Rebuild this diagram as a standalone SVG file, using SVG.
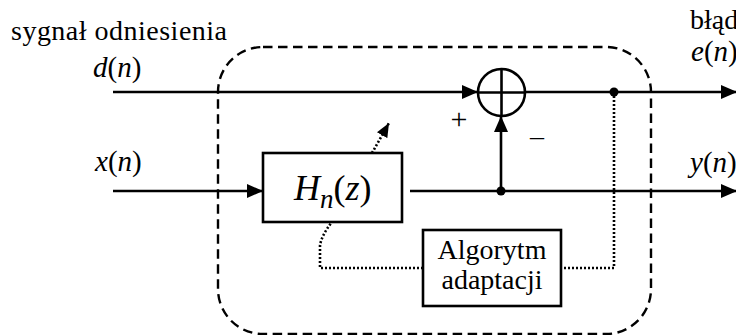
<svg xmlns="http://www.w3.org/2000/svg" width="736" height="335" viewBox="0 0 736 335">
<style>
text{font-family:'Liberation Serif','Times New Roman',Times,'DejaVu Serif',serif;fill:#000}
.i{font-style:italic}
.ln{stroke:#000;stroke-width:2.6;fill:none}
.dot{stroke:#000;stroke-width:2.6;fill:none;stroke-dasharray:2 2}
.box{stroke:#000;stroke-width:2.6;fill:#fff}
.dash{stroke:#000;stroke-width:2.4;fill:none;stroke-dasharray:9.5 5.5}
</style>
<defs>
<marker id="ar" viewBox="0 0 16 14" refX="16" refY="7" markerWidth="16" markerHeight="14" markerUnits="userSpaceOnUse" orient="auto">
<path d="M0,0 L16,7 L0,14 Z" fill="#000"/>
</marker>
<marker id="ar2" viewBox="0 0 14 12" refX="14" refY="6" markerWidth="14" markerHeight="12" markerUnits="userSpaceOnUse" orient="auto">
<path d="M0,0 L14,6 L0,12 Z" fill="#000"/>
</marker>
</defs>
<g id="boundary">
<rect class="dash" x="218" y="47" width="433" height="287" rx="45" ry="45"/>
</g>
<g id="connectors">
<line class="ln" x1="113" y1="92" x2="478" y2="92" marker-end="url(#ar)"/>
<line class="ln" x1="525.5" y1="92" x2="737" y2="92" marker-end="url(#ar)"/>
<line class="ln" x1="113" y1="191" x2="263" y2="191" marker-end="url(#ar)"/>
<line class="ln" x1="410" y1="191" x2="737" y2="191" marker-end="url(#ar)"/>
<line class="ln" x1="501" y1="191" x2="501" y2="116" marker-end="url(#ar)"/>
<circle cx="501" cy="191" r="4.5" fill="#000"/>
<circle cx="614" cy="92" r="4.5" fill="#000"/>
<path class="dot" d="M614,92 L614,268 L561,268"/>
<path class="dot" d="M423,268 L320,268 L320,246 Q321,236 332,222"/>
<path class="dot" d="M372,153 L389,123" marker-end="url(#ar2)"/>
</g>
<g id="sum">
<circle cx="501.5" cy="92.5" r="23.5" fill="#fff" stroke="#000" stroke-width="2.6"/>
<line class="ln" x1="478" y1="92.5" x2="525" y2="92.5"/>
<line class="ln" x1="501.5" y1="69" x2="501.5" y2="116"/>
</g>
<g id="filter">
<rect class="box" x="263" y="153" width="139" height="69"/>
<text x="294" y="200" font-size="36"><tspan class="i">H</tspan><tspan class="i" font-size="27" dy="8">n</tspan><tspan dy="-8">(</tspan><tspan class="i">z</tspan><tspan>)</tspan></text>
</g>
<g id="algorithm">
<rect class="box" x="423" y="230" width="138" height="76"/>
<text x="492" y="259" font-size="28" text-anchor="middle">Algorytm</text>
<text x="492" y="289" font-size="28" text-anchor="middle">adaptacji</text>
</g>
<g id="labels">
<text x="11" y="40" font-size="28" textLength="216" lengthAdjust="spacing">sygnał odniesienia</text>
<text x="93" y="77" font-size="29"><tspan class="i">d</tspan>(<tspan class="i">n</tspan>)</text>
<text x="95" y="171" font-size="29"><tspan class="i">x</tspan>(<tspan class="i">n</tspan>)</text>
<text x="690" y="172" font-size="29"><tspan class="i">y</tspan>(<tspan class="i">n</tspan>)</text>
<text x="690" y="29" font-size="28">błąd</text>
<text x="691" y="61" font-size="29"><tspan class="i">e</tspan>(<tspan class="i">n</tspan>)</text>
<text x="459" y="129" font-size="30" text-anchor="middle">+</text>
<text x="537" y="145" font-size="28" text-anchor="middle">–</text>
</g>
</svg>
